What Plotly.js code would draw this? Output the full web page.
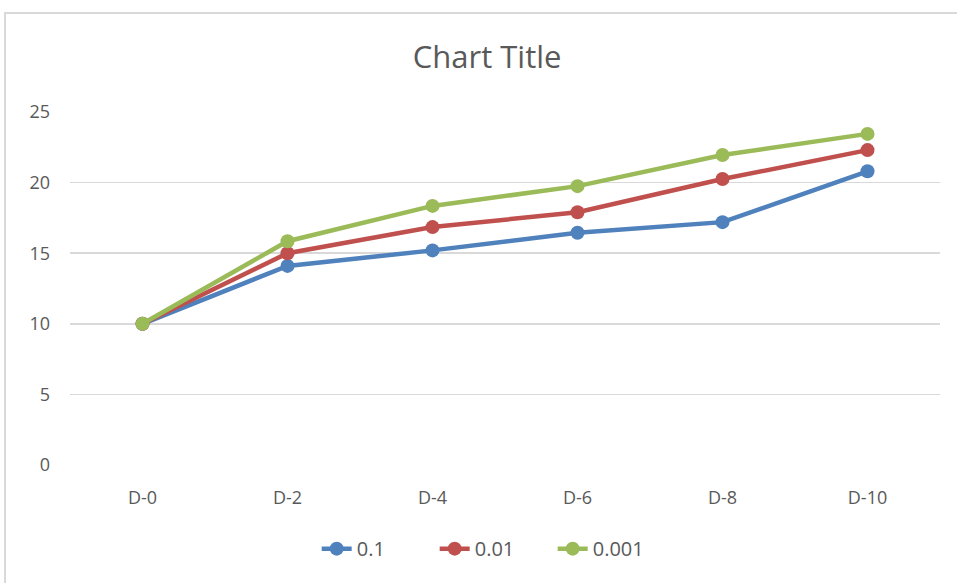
<!DOCTYPE html>
<html>
<head>
<meta charset="utf-8">
<script src="https://cdn.plot.ly/plotly-3.0.1.min.js"></script>
<style>
html,body{margin:0;padding:0;background:#fff;overflow:hidden;}
#chart{width:957px;height:583px;}
#frame{position:absolute;left:4px;top:12px;width:980px;height:600px;border:2px solid #d9d9d9;pointer-events:none;box-sizing:border-box;}
</style>
</head>
<body>
<div id="chart"></div>
<div id="frame"></div>
<script>
const categories = ["D-0","D-2","D-4","D-6","D-8","D-10"];
const seriesNames = ["0.1","0.01","0.001"];
const s01 = [10, 14.1, 15.2, 16.45, 17.2, 20.8];
const s001 = [10, 15.0, 16.85, 17.9, 20.25, 22.3];
const s0001 = [10, 15.85, 18.35, 19.75, 21.95, 23.45];
const yTicks = [0,5,10,15,20,25];
const colors = ["#4F81BD","#C0504D","#9BBB59"];

const data = [s01, s001, s0001].map((vals,i)=>({
  x: categories, y: vals, name: seriesNames[i], type:'scatter', mode:'lines+markers',
  line:{color:colors[i], width:4.5}, marker:{color:colors[i], size:14}
}));

const font = "Open Sans, Liberation Sans, sans-serif";
const layout = {
  width:957, height:583,
  margin:{l:70, r:17, t:111.5, b:117.5},
  paper_bgcolor:'#fff', plot_bgcolor:'#fff',
  title:{text:'Chart Title', x:0.509, xanchor:'center', y:0.902, yanchor:'middle',
         font:{family:font, size:31, color:'#595959'}},
  xaxis:{type:'category', range:[-0.5,5.5], showgrid:false, zeroline:false, showline:false,
         tickfont:{family:font, size:18, color:'#595959'}, ticks:'', ticklabelstandoff:20},
  yaxis:{range:[0,25], tickvals:yTicks, showgrid:true, gridcolor:'#d9d9d9', gridwidth:1.5,
         zeroline:false, showline:false, ticks:'', ticklabelstandoff:19,
         tickfont:{family:font, size:18, color:'#595959'}},
  showlegend:true,
  legend:{orientation:'h', x:0.487, xanchor:'center', y:-0.237, yanchor:'middle',
          font:{family:font, size:20, color:'#595959'}, entrywidth:73, entrywidthmode:'pixels', tracegroupgap:0},
  hovermode:false
};
Plotly.newPlot('chart', data, layout, {displayModeBar:false, staticPlot:true});
</script>
</body>
</html>
